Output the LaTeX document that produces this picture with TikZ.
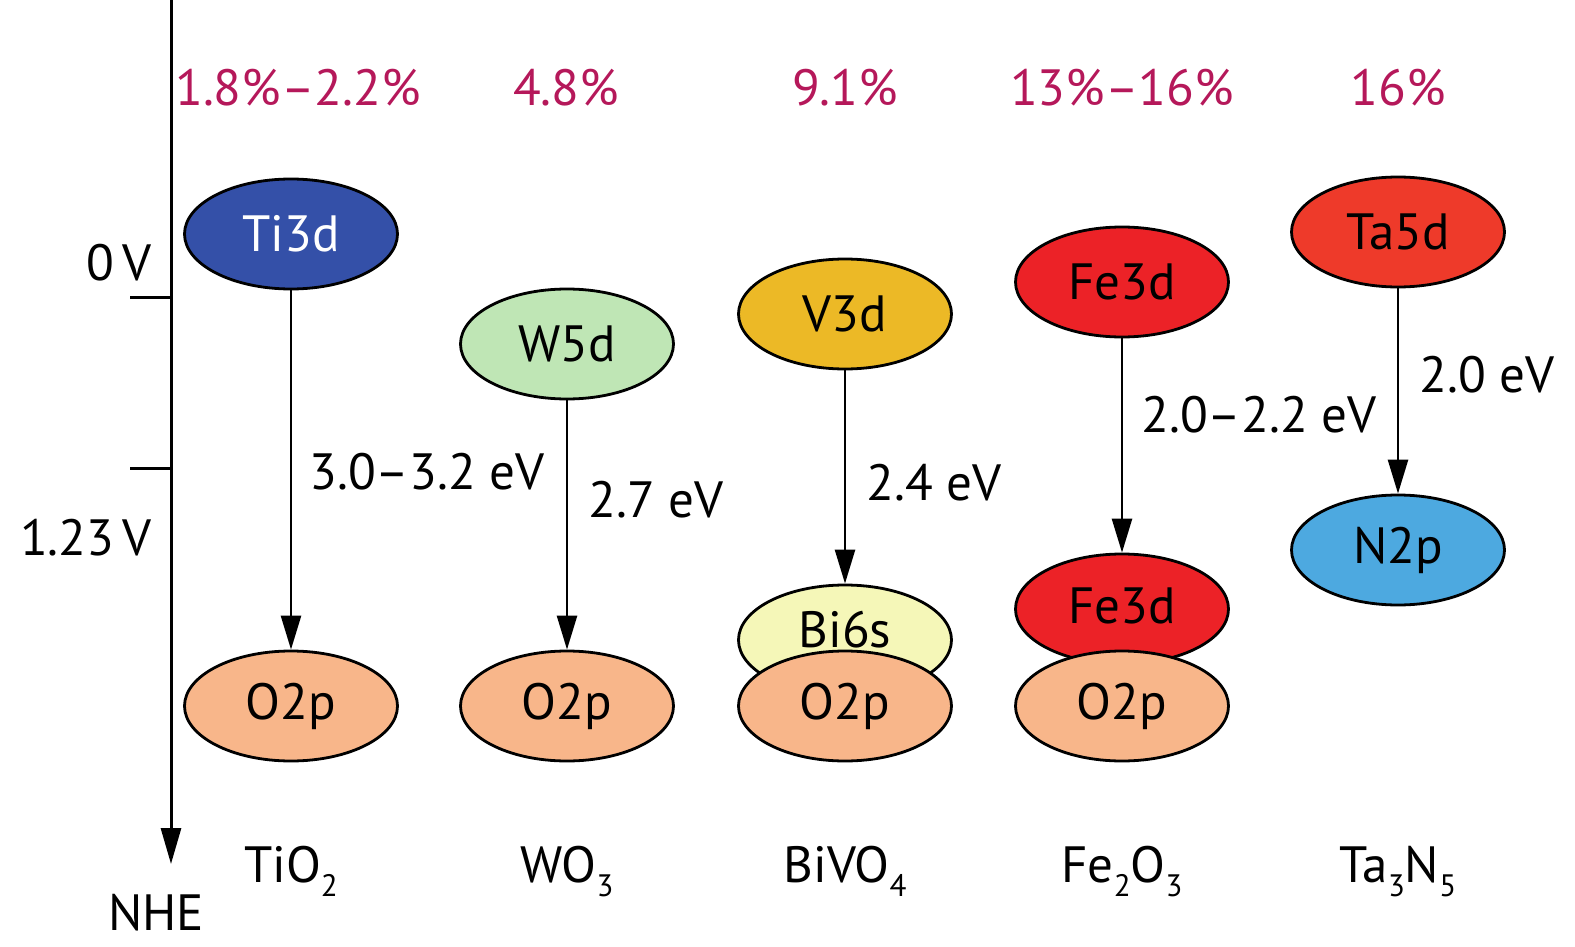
\documentclass[tikz,border=0pt]{standalone}
\usepackage{fontspec}
\setmainfont{PT Sans}
\usetikzlibrary{shapes.geometric,arrows.meta}
\definecolor{pct}{HTML}{B5185A}
\definecolor{tiblue}{HTML}{3450A8}
\definecolor{wgreen}{HTML}{BFE6B5}
\definecolor{vyellow}{HTML}{ECB926}
\definecolor{bilight}{HTML}{F5F7B8}
\definecolor{fered}{HTML}{EC2227}
\definecolor{tared}{HTML}{EE3A2A}
\definecolor{nblue}{HTML}{4DA9E0}
\definecolor{opeach}{HTML}{F8B68A}
\newcommand{\sbs}[1]{\raisebox{-0.28em}{\fontsize{15.5}{16}\selectfont #1}}
\tikzset{
  orb/.style={ellipse,draw=black,line width=1.4pt,minimum width=106.5pt,minimum height=55pt,inner sep=0pt,font=\fontsize{25.5}{30}\selectfont},
  txt/.style={font=\fontsize{25.5}{30}\selectfont,inner sep=0pt},
  pcttxt/.style={txt,text=pct},
  gap/.style={draw=black,line width=1.3pt,-{Triangle[length=17pt,width=10pt]}},
}
\begin{document}
\begin{tikzpicture}[x=0.5pt,y=-0.5pt]
\useasboundingbox (0,0) rectangle (1575,947);
% axis
\coordinate (atop) at (171,0);
\coordinate (abot) at (171,864);
\draw[line width=1.5pt,-{Triangle[length=18pt,width=10pt]}] (atop) -- (abot);
\coordinate (t0a) at (130,297); \coordinate (t0b) at (172,297);
\coordinate (t1a) at (130,468); \coordinate (t1b) at (172,468);
\draw[line width=1.5pt] (t0a) -- (t0b);
\draw[line width=1.5pt] (t1a) -- (t1b);
\node[txt] (l0) at (119,263) {0\,V};
\node[txt] (l1) at (86,538) {1.23\,V};
\node[txt] (nhe) at (156,913) {NHE};
% percentages
\node[pcttxt] (p1) at (298,88) {1.8\%–2.2\%};
\node[pcttxt] (p2) at (566,88) {4.8\%};
\node[pcttxt] (p3) at (845,88) {9.1\%};
\node[pcttxt] (p4) at (1122,88) {13\%–16\%};
\node[pcttxt] (p5) at (1398,88) {16\%};
% TiO2
\node[orb,fill=tiblue,text=white] (ti) at (291,234) {\raisebox{1pt}{Ti3d}};
\node[orb,fill=opeach] (o1) at (291,706) {O2p};
\draw[gap] (ti) -- (o1);
\node[txt] (g1) at (427,472) {3.0–3.2 eV};
% WO3
\node[orb,fill=wgreen] (w) at (567,344) {W5d};
\node[orb,fill=opeach] (o2) at (567,706) {O2p};
\draw[gap] (w) -- (o2);
\node[txt] (g2) at (656,500) {2.7 eV};
% BiVO4
\node[orb,fill=vyellow] (v) at (845,314) {V3d};
\node[orb,fill=bilight] (bi) at (845,640) {\raisebox{11pt}{Bi6s}};
\node[orb,fill=opeach] (o3) at (845,706) {O2p};
\draw[gap] (v) -- (bi);
\node[txt] (g3) at (934,483) {2.4 eV};
% Fe2O3
\node[orb,fill=fered] (fe1) at (1122,282) {Fe3d};
\node[orb,fill=fered] (fe2) at (1122,609) {\raisebox{3pt}{Fe3d}};
\node[orb,fill=opeach] (o4) at (1122,706) {O2p};
\draw[gap] (fe1) -- (fe2);
\node[txt] (g4) at (1259,415) {2.0–2.2 eV};
% Ta3N5
\node[orb,fill=tared] (ta) at (1398,232) {Ta5d};
\node[orb,fill=nblue] (n) at (1398,550) {N2p};
\draw[gap] (ta) -- (n);
\node[txt] (g5) at (1487,375) {2.0 eV};
% compounds
\node[txt,anchor=base] (c1) at (291,882) {TiO\sbs{2}};
\node[txt,anchor=base] (c2) at (567,882) {WO\sbs{3}};
\node[txt,anchor=base] (c3) at (845,882) {BiVO\sbs{4}};
\node[txt,anchor=base] (c4) at (1122,882) {Fe\sbs{2}O\sbs{3}};
\node[txt,anchor=base] (c5) at (1398,882) {Ta\sbs{3}N\sbs{5}};
\end{tikzpicture}
\end{document}
